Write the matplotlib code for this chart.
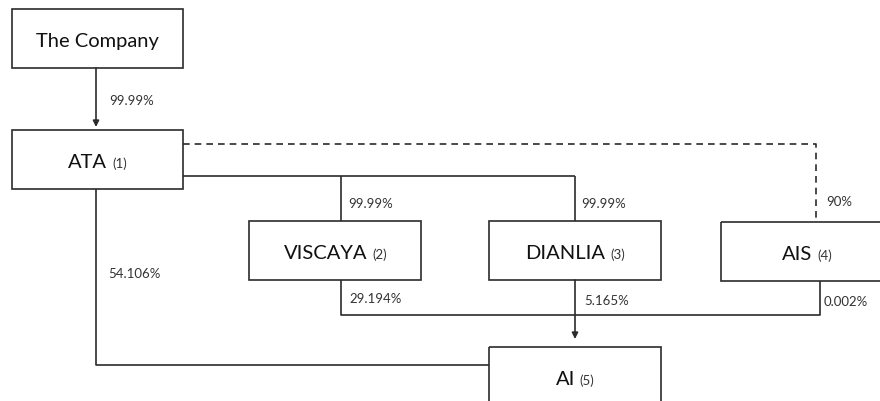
import matplotlib
matplotlib.use("Agg")
import matplotlib.pyplot as plt
from matplotlib.patches import Rectangle

plt.rcParams['font.family'] = ['Lato', 'DejaVu Sans']

# entities and their footnote markers
names = ["The Company", "ATA", "VISCAYA", "DIANLIA", "AIS", "AI"]
notes = ["", "(1)", "(2)", "(3)", "(4)", "(5)"]
# ownership stakes
stake_company_ata = "99.99%"
stake_ata_viscaya = "99.99%"
stake_ata_dianlia = "99.99%"
stake_ata_ais = "90%"
stake_ata_ai = "54.106%"
stake_viscaya_ai = "29.194%"
stake_dianlia_ai = "5.165%"
stake_ais_ai = "0.002%"

# box layout in pixels: left, top, width, height
boxes = {
    "The Company": (12, 10, 171, 59),
    "ATA": (12, 131, 171, 59),
    "VISCAYA": (249, 222, 172, 59),
    "DIANLIA": (489, 222, 172, 59),
    "AIS": (721, 223, 172, 59),
    "AI": (489, 348, 172, 70),
}

LC = "#2b2b2b"
TC = "#111111"
LW = 1.2

fig = plt.figure(figsize=(8.8, 4.02), dpi=100)
ax = fig.add_axes([0, 0, 1, 1])
ax.set_xlim(0, 880)
ax.set_ylim(402, 0)
ax.axis("off")
renderer = fig.canvas.get_renderer()

for name, note in zip(names, notes):
    x, y, w, h = boxes[name]
    ax.add_patch(Rectangle((x, y), w, h, fill=False, edgecolor=LC, lw=LW))
    cx = x + w / 2
    cy = y + 30
    t1 = ax.text(0, cy, name, ha="left", va="center_baseline", fontsize=14.5, color=TC)
    if not note:
        t1.set_x(cx - t1.get_window_extent(renderer).width / 2)
        continue
    t2 = ax.text(0, cy, note, ha="left", va="center_baseline", fontsize=9.5, color="#333333")
    w1 = t1.get_window_extent(renderer).width
    w2 = t2.get_window_extent(renderer).width
    gap = 5
    left = cx - (w1 + gap + w2) / 2
    t1.set_x(left)
    t2.set_x(left + w1 + gap)
    t2.set_y(cy + 1.5)


def line(xs, ys, dashed=False):
    ax.plot(xs, ys, color=LC, lw=LW, ls=(0, (4, 3)) if dashed else "-",
            solid_capstyle="butt")


def arrow(x, y0, y1):
    ax.annotate("", xy=(x, y1), xytext=(x, y0),
                arrowprops=dict(arrowstyle="-|>", color=LC, lw=LW,
                                mutation_scale=9, shrinkA=0, shrinkB=0))


def label(x, y, s):
    ax.text(x, y, s, ha="left", va="center", fontsize=9.5, color="#333333")


# The Company -> ATA
arrow(96, 69, 128)
label(109, 101, stake_company_ata)

# ATA -> VISCAYA, DIANLIA
line([183, 575], [177, 177])
line([341, 341], [177, 222])
line([575, 575], [177, 222])
label(348, 204, stake_ata_viscaya)
label(581, 204, stake_ata_dianlia)

# ATA -> AIS (dashed)
line([183, 816, 816], [145, 145, 223], dashed=True)
label(826, 202, stake_ata_ais)

# ATA -> AI
line([96, 96, 489], [190, 366, 366])
label(108, 274, stake_ata_ai)

# VISCAYA, AIS -> AI via DIANLIA
line([341, 341, 820, 820], [281, 316, 316, 282])
arrow(575, 281, 340)
label(349, 299, stake_viscaya_ai)
label(584, 301, stake_dianlia_ai)
label(824, 302, stake_ais_ai)

fig.savefig("out.png", dpi=100)
